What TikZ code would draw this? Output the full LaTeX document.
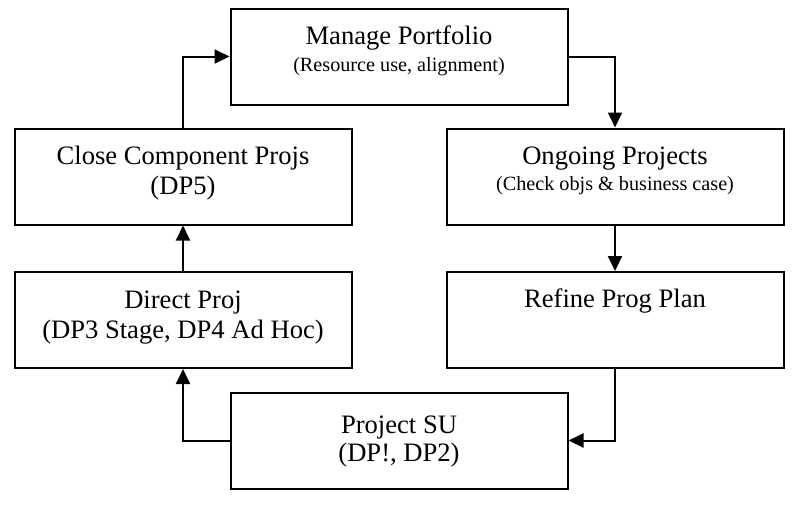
\documentclass[tikz,border=0pt]{standalone}
\usepackage{fontspec}
\setmainfont{Liberation Serif}
\usetikzlibrary{arrows.meta}
\tikzset{
  stage/.style={draw,line width=2pt,minimum width=337pt,minimum height=96pt,inner sep=0pt},
  title/.style={anchor=base,inner sep=0pt,font=\fontsize{26.6}{30}\selectfont},
  note/.style={anchor=base,inner sep=0pt,font=\fontsize{20.2}{24}\selectfont},
  flow/.style={line width=2pt,-{Triangle[length=15pt,width=14pt]}}
}
\begin{document}
\begin{tikzpicture}[x=1pt,y=1pt]
    \useasboundingbox (0,0) rectangle (793,-507);
    % boxes
    \node[stage] (mp) at (399,-56.5) {};
    \node[stage] (close) at (183,-176.5) {};
    \node[stage] (ongoing) at (615,-176.5) {};
    \node[stage] (direct) at (183,-320) {};
    \node[stage] (refine) at (615,-320) {};
    \node[stage] (su) at (399,-440.5) {};
    % texts
    \node[title] (mp-t) at ([yshift=-37pt]mp.north) {Manage Portfolio};
    \node[note] (mp-n) at ([yshift=-64pt]mp.north) {(Resource use, alignment)};
    \node[title] (close-t) at ([yshift=-37pt]close.north) {Close Component Projs};
    \node[title] (close-n) at ([yshift=-67pt]close.north) {(DP5)};
    \node[title] (ongoing-t) at ([yshift=-37pt]ongoing.north) {Ongoing Projects};
    \node[note] (ongoing-n) at ([yshift=-63pt]ongoing.north) {(Check objs \& business case)};
    \node[title] (direct-t) at ([yshift=-37pt]direct.north) {Direct Proj};
    \node[title] (direct-n) at ([yshift=-67pt]direct.north) {(DP3 Stage, DP4 Ad Hoc)};
    \node[title] (refine-t) at ([yshift=-36pt]refine.north) {Refine Prog Plan};
    \node[title] (su-t) at ([yshift=-42pt]su.north) {Project SU};
    \node[title] (su-n) at ([yshift=-70pt]su.north) {(DP!, DP2)};
    % connectors
    \draw[flow] (close.north) |- (mp.west);
    \draw[flow] (mp.east) -| (ongoing.north);
    \draw[flow] (ongoing.south) -- (refine.north);
    \draw[flow] (refine.south) |- (su.east);
    \draw[flow] (su.west) -| (direct.south);
    \draw[flow] (direct.north) -- (close.south);
\end{tikzpicture}
\end{document}
